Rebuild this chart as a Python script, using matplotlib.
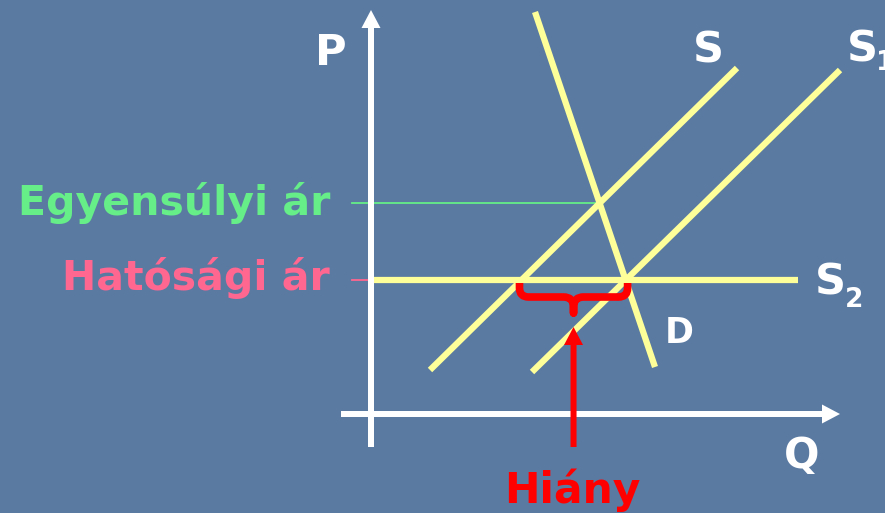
import matplotlib
matplotlib.use("Agg")
import matplotlib.pyplot as plt
from matplotlib.path import Path
from matplotlib.patches import PathPatch
import numpy as np

# ---- data (schematic supply/demand diagram, units on Q/P axes) ----
S_q = [5.9, 36.6]
S_p = [4.4, 34.6]
S1_q = [16.1, 46.9]
S1_p = [4.2, 34.4]
D_q = [16.4, 28.4]
D_p = [40.2, 4.7]
price_regulated = 13.4      # Hatósági ár (S2)
S2_q = [0.0, 42.7]
label_eq = "Egyensúlyi ár"
label_reg = "Hatósági ár"
label_short = "Hiány"

BG = "#5a7aa2"
YELLOW = "#ffff99"
GREEN = "#66ee88"
PINK = "#ff6690"
RED = "#ff0000"
WHITE = "#ffffff"
FONT = "DejaVu Sans"


def line_coef(q, p):
    m = (p[1] - p[0]) / (q[1] - q[0])
    return m, p[0] - m * q[0]


mS, bS = line_coef(S_q, S_p)
mD, bD = line_coef(D_q, D_p)
q_eq = (bD - bS) / (mS - mD)
p_eq = mS * q_eq + bS
q_left = (price_regulated - bS) / mS
q_right = (price_regulated - bD) / mD

fig = plt.figure(figsize=(8.85, 5.13), dpi=100, facecolor=BG)
ax = fig.add_axes([0, 0, 1, 1])
ax.set_facecolor(BG)
ax.set_xlim(-37.1, 51.4)
ax.set_ylim(-9.9, 41.4)
ax.axis("off")

# axes arrows
ax.arrow(0, -3.3, 0, 43.7, width=0.6, head_width=1.9, head_length=1.8,
         length_includes_head=True, color=WHITE, lw=0, zorder=3)
ax.arrow(-3.0, 0, 49.9, 0, width=0.6, head_width=1.9, head_length=1.8,
         length_includes_head=True, color=WHITE, lw=0, zorder=3)

# supply / demand lines
lw_y = 4.5
ax.plot(S_q, S_p, color=YELLOW, lw=lw_y, solid_capstyle="butt", zorder=2)
ax.plot(S1_q, S1_p, color=YELLOW, lw=lw_y, solid_capstyle="butt", zorder=2)
ax.plot(D_q, D_p, color=YELLOW, lw=lw_y, solid_capstyle="butt", zorder=2)
ax.plot(S2_q, [price_regulated] * 2, color=YELLOW, lw=lw_y,
        solid_capstyle="butt", zorder=2)

# price guide lines
ax.plot([-1.9, q_eq], [p_eq, p_eq], color=GREEN, lw=1.3, zorder=1)
ax.plot([-1.9, 0], [price_regulated] * 2, color=PINK, lw=1.3, zorder=1)

# brace (shortage)
qm = (q_left + q_right) / 2
t = price_regulated - 0.3
h = price_regulated - 1.7
tip = price_regulated - 3.3
L = q_left - 0.2
R = q_right + 0.2
verts = [(L, t), (L, h + 0.9), (L, h), (L + 0.9, h), (qm - 1.0, h), (qm, h), (qm, h - 1.0),
         (qm, tip), (qm, h - 1.0), (qm, h), (qm + 1.0, h), (R - 0.9, h), (R, h), (R, h + 0.9),
         (R, t)]
codes = [Path.MOVETO, Path.LINETO, Path.CURVE3, Path.CURVE3, Path.LINETO, Path.CURVE3,
         Path.CURVE3, Path.LINETO, Path.LINETO, Path.CURVE3, Path.CURVE3, Path.LINETO,
         Path.CURVE3, Path.CURVE3, Path.LINETO]
ax.add_patch(PathPatch(Path(verts, codes), facecolor="none", edgecolor=RED, lw=5.5,
                       joinstyle="round", capstyle="butt", zorder=4))

# red arrow
ax.arrow(qm, -3.3, 0, 12.0, width=0.6, head_width=1.9, head_length=1.8,
         length_includes_head=True, color=RED, lw=0, zorder=4)

# texts
tk = dict(family=FONT, fontweight="bold")
ax.text(-4.1, 19.9, label_eq, color=GREEN, fontsize=29.5, ha="right", va="baseline", **tk)
ax.text(-4.1, 12.4, label_reg, color=PINK, fontsize=29.5, ha="right", va="baseline", **tk)
ax.text(20.1, -8.9, label_short, color=RED, fontsize=30.5, ha="center", va="baseline", **tk)
ax.text(-4.0, 34.9, "P", color=WHITE, fontsize=31, ha="center", va="baseline", **tk)
ax.text(43.1, -5.4, "Q", color=WHITE, fontsize=30, ha="center", va="baseline", **tk)
ax.text(33.7, 35.1, "S", color=WHITE, fontsize=31, ha="center", va="baseline", **tk)
ax.text(47.6, 35.2, "S", color=WHITE, fontsize=31, ha="left", va="baseline", **tk)
ax.text(50.5, 34.4, "1", color=WHITE, fontsize=19, ha="left", va="baseline", **tk)
ax.text(44.4, 11.9, "S", color=WHITE, fontsize=31, ha="left", va="baseline", **tk)
ax.text(47.4, 10.7, "2", color=WHITE, fontsize=19, ha="left", va="baseline", **tk)
ax.text(29.4, 7.1, "D", color=WHITE, fontsize=25, ha="left", va="baseline", **tk)

fig.savefig("out.png", dpi=100, facecolor=BG)
